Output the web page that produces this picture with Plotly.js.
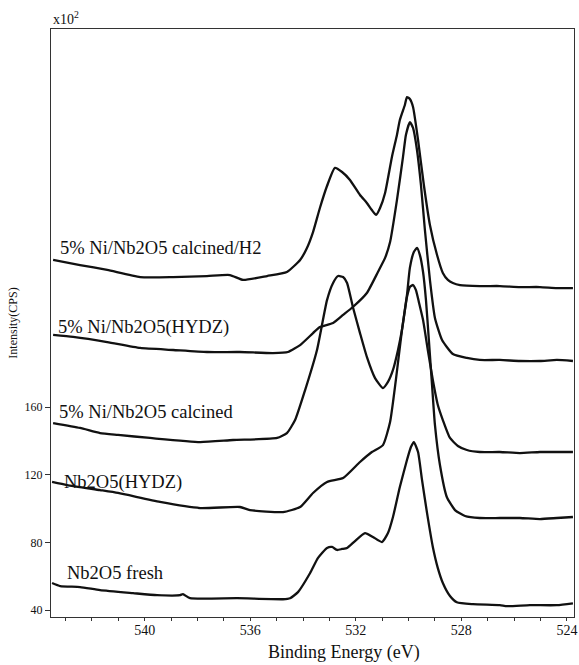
<!DOCTYPE html>
<html>
<head>
<meta charset="utf-8">
<script src="https://cdn.plot.ly/plotly-3.0.1.min.js"></script>
<style>html,body{margin:0;padding:0;background:#fff;}#chart{width:579px;height:665px;}</style>
</head>
<body>
<div id="chart"></div>
<script>
// Binding energy (eV) and intensity (CPS, x10^2)
const c1_x = [543.47,542.45,541.42,540.17,538.92,537.64,536.77,536.27,535.36,534.61,534.11,533.85,533.62,533.36,533.09,532.79,532.52,532.22,531.84,531.58,531.39,531.23,531.08,530.89,530.63,530.44,530.33,530.14,530.06,529.95,529.83,529.64,529.42,529.19,528.92,528.70,528.51,528.32,528.05,527.30,526.54,525.78,525.02,524.38,523.77];
const c1_y = [246.9,243.9,241.0,236.8,236.8,237.4,238.0,235.1,237.4,239.8,246.9,254.0,263.4,277.6,290.6,301.3,298.9,294.2,285.3,280.6,276.4,273.5,277.6,286.5,307.8,320.8,329.6,338.5,343.2,342.0,337.3,317.8,291.2,267.6,249.8,239.2,235.1,233.3,232.1,231.5,231.5,230.9,230.9,230.3,230.3];

const c2_x = [543.47,542.71,541.42,540.17,538.92,537.64,536.39,535.14,534.57,534.11,533.62,533.36,532.86,532.48,532.11,531.58,531.16,530.89,530.70,530.44,530.21,530.10,529.95,529.83,529.68,529.53,529.38,529.19,529.00,528.73,528.32,527.79,527.30,526.54,525.78,525.02,524.38,523.77];
const c2_y = [202.6,201.4,198.4,194.9,193.7,192.5,192.5,191.9,192.5,196.6,203.7,207.3,209.6,214.4,219.1,227.4,239.8,248.1,257.5,282.3,307.8,320.8,328.4,324.9,311.9,291.2,264.6,235.1,212.6,199.6,191.3,189.0,187.8,187.8,187.2,187.2,187.8,187.2];

const c3_x = [543.47,542.45,541.69,541.01,539.80,537.90,536.65,534.98,534.61,534.30,533.92,533.47,533.09,532.86,532.67,532.48,532.33,532.11,531.84,531.58,531.27,530.97,530.78,530.59,530.40,530.25,530.06,529.95,529.83,529.72,529.61,529.45,529.27,529.08,528.89,528.70,528.43,528.13,527.79,527.30,526.54,525.78,525.02,524.38,523.77];
const c3_y = [150.5,147.6,144.6,143.5,141.7,139.3,140.5,141.7,144.6,152.3,170.0,193.7,223.2,233.3,237.4,236.8,233.3,219.1,203.7,189.6,177.1,171.2,174.8,181.9,193.7,205.5,225.0,230.9,232.1,229.1,222.1,211.4,193.7,176.0,161.2,152.3,141.7,137.0,134.6,133.4,133.4,132.8,133.4,133.4,133.4];

const c4_x = [543.51,542.94,541.69,541.01,539.42,537.90,536.39,536.01,534.76,534.11,533.62,533.09,532.48,531.84,531.39,530.97,530.70,530.48,530.25,530.06,529.95,529.80,529.68,529.57,529.45,529.34,529.23,529.11,529.00,528.81,528.55,528.24,527.86,527.30,526.54,525.78,525.02,524.38,523.77];
const c4_y = [115.7,113.9,110.9,109.2,103.9,100.3,100.9,99.1,97.9,100.9,109.2,115.7,118.0,127.5,133.4,137.5,151.1,176.0,205.5,226.2,242.2,251.6,254.0,249.8,239.8,223.2,199.6,173.0,149.4,125.7,106.8,99.1,95.6,94.4,94.4,94.4,93.8,94.4,95.0];

const c5_x = [543.51,543.20,542.45,541.69,540.44,539.53,538.66,538.55,538.28,536.50,534.76,534.49,534.19,533.73,533.43,533.09,532.90,532.71,532.52,532.33,532.03,531.65,531.35,531.01,530.78,530.59,530.33,530.06,529.91,529.80,529.64,529.49,529.30,529.08,528.89,528.70,528.43,528.17,527.56,526.54,526.27,525.40,524.38,523.77];
const c5_y = [56.0,54.2,53.6,51.8,50.0,48.8,48.8,49.4,47.0,47.0,46.4,47.0,50.6,61.9,70.8,76.7,77.3,75.5,76.1,76.7,80.8,85.5,83.2,80.2,85.5,95.0,112.7,128.7,136.4,139.3,133.4,116.9,97.4,77.3,64.8,56.0,48.3,44.6,43.5,42.9,42.3,42.9,42.9,44.0];

const seriesNames = ["5% Ni/Nb2O5 calcined/H2","5% Ni/Nb2O5(HYDZ)","5% Ni/Nb2O5 calcined","Nb2O5(HYDZ)","Nb2O5 fresh"];
const yTickVals = [40,80,120,160];
const xTitle = "Binding Energy (eV)";
const yTitle = "Intensity(CPS)";

const xs = [c1_x,c2_x,c3_x,c4_x,c5_x];
const ys = [c1_y,c2_y,c3_y,c4_y,c5_y];

const traces = xs.map((x,i)=>({
  x: x, y: ys[i], type:'scatter', mode:'lines', name: seriesNames[i],
  line:{color:'#111', width:2.3, shape:'spline', smoothing:0.5},
  hoverinfo:'skip'
}));

const serif = 'Liberation Serif, Times New Roman, Times, serif';
const W = 523, H = 588, L = 51, T = 29;
const px = v => (v - L)/W;
const py = v => (T + H - v)/H;

const labelPos = [[58,248],[56,327],[57,412],[62,482],[65,573]];
const annotations = seriesNames.map((s,i)=>({
  text: s, xref:'paper', yref:'paper', x: px(labelPos[i][0]), y: py(labelPos[i][1]),
  xanchor:'left', yanchor:'middle', showarrow:false, font:{family:serif, size:18.5, color:'#111'}
}));
annotations.push({text:'x10<sup>2</sup>', xref:'paper', yref:'paper', x: px(51), y: 1, xanchor:'left', yanchor:'bottom', showarrow:false, font:{family:serif, size:14, color:'#111'}});
annotations.push({text:xTitle, xref:'paper', yref:'paper', x: px(343.5), y: py(652), xanchor:'center', yanchor:'middle', showarrow:false, font:{family:serif, size:18, color:'#111'}});

const layout = {
  width:579, height:665,
  margin:{l:51, r:5, t:29, b:48, pad:0},
  paper_bgcolor:'#fff', plot_bgcolor:'#fff',
  showlegend:false,
  font:{family:serif, color:'#111'},
  xaxis:{
    range:[543.55,523.73], tickmode:'linear', tick0:524, dtick:4,
    ticks:'outside', ticklen:3, tickcolor:'#333', tickfont:{size:14, family:serif},
    ticklabelstandoff:-3,
    showline:true, mirror:true, linecolor:'#333', linewidth:1,
    showgrid:false, zeroline:false,
    minor:{tickmode:'linear', tick0:524, dtick:1, ticks:'outside', ticklen:3, tickcolor:'#333', showgrid:false}
  },
  yaxis:{
    range:[35.9,383.4], tickmode:'array', tickvals:yTickVals,
    ticks:'outside', ticklen:5, tickcolor:'#333', tickfont:{size:12, family:serif},
    showline:true, mirror:true, linecolor:'#333', linewidth:1,
    showgrid:false, zeroline:false,
    title:{text:yTitle, font:{size:12, family:serif}, standoff:4}
  },
  annotations: annotations
};

Plotly.newPlot('chart', traces, layout, {staticPlot:true, displayModeBar:false});
</script>
</body>
</html>
